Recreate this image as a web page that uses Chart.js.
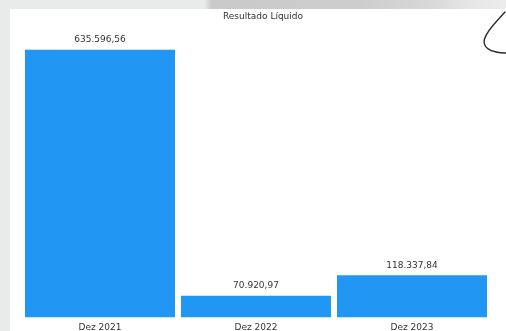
<!DOCTYPE html>
<html>
<head>
<meta charset="utf-8">
<script src="https://cdn.jsdelivr.net/npm/chart.js@4/dist/chart.umd.min.js"></script>
<style>
  html, body { margin: 0; padding: 0; width: 506px; height: 331px; overflow: hidden; background: #e9ebea; }
  #strip { position: absolute; left: 0; top: 0; width: 506px; height: 9px;
    background: linear-gradient(90deg, #e9ebea 0, #e9ebea 204px, #cacaca 212px, #cdcdcd 360px, #d8d8d8 430px, #e6e6e6 468px, #ececec 506px); }
  #panel { position: absolute; left: 10px; top: 9px; width: 496px; height: 322px; background: #ffffff; }
  #wrap { position: absolute; left: 0; top: 0; width: 506px; height: 338px; }
  #pen { position: absolute; left: 0; top: 0; width: 506px; height: 331px; pointer-events: none; }
</style>
</head>
<body>
<div id="strip"></div>
<div id="panel"></div>
<div id="wrap"><canvas id="chart" width="506" height="338"></canvas></div>
<svg id="pen" width="506" height="331" viewBox="0 0 506 331">
  <path d="M 505 12 C 497 21, 487 30, 484.5 39 C 482.5 47, 489 52.5, 506 53" fill="none" stroke="#2b2b2b" stroke-width="1.4" stroke-linecap="round"/>
</svg>
<script>
// Resultado líquido por exercício
const categories = ['Dez 2021', 'Dez 2022', 'Dez 2023'];
const resultadoLiquido = [635596.56, 70920.97, 118337.84];
const chartTitle = 'Resultado Líquido';

const fmtBR = new Intl.NumberFormat('pt-BR', { minimumFractionDigits: 2, maximumFractionDigits: 2 });

// Writes each bar's value just above it
const valueLabels = {
  id: 'valueLabels',
  afterDatasetsDraw(chart) {
    const ctx = chart.ctx;
    const meta = chart.getDatasetMeta(0);
    ctx.save();
    ctx.font = '9px "DejaVu Sans"';
    ctx.fillStyle = '#333333';
    ctx.textAlign = 'center';
    ctx.textBaseline = 'middle';
    meta.data.forEach((bar, i) => {
      const v = chart.data.datasets[0].data[i];
      ctx.fillText(fmtBR.format(v), bar.x, bar.y - 10);
    });
    ctx.restore();
  }
};

new Chart(document.getElementById('chart'), {
  type: 'bar',
  data: {
    labels: categories,
    datasets: [{
      data: resultadoLiquido,
      backgroundColor: '#2196f3',
      borderWidth: 0,
      categoryPercentage: 1,
      barPercentage: 0.9615
    }]
  },
  options: {
    responsive: false,
    animation: false,
    layout: { padding: { left: 22, right: 2, top: 0, bottom: 0 } },
    plugins: {
      legend: { display: false },
      tooltip: { enabled: false },
      title: {
        display: true,
        text: chartTitle,
        color: '#333333',
        font: { family: 'DejaVu Sans', size: 9, weight: 'normal' },
        padding: { top: 11.6, bottom: 16.6 }
      }
    },
    scales: {
      x: {
        grid: { display: false, drawTicks: false },
        border: { display: false },
        ticks: { color: '#333333', padding: 5, font: { family: 'DejaVu Sans', size: 9 } }
      },
      y: {
        position: 'right',
        min: 22000,
        max: 660000,
        grid: { display: false, drawTicks: false },
        border: { display: false },
        ticks: { display: false },
        afterFit(scale) { scale.width = 14; }
      }
    }
  },
  plugins: [valueLabels]
});
</script>
</body>
</html>
